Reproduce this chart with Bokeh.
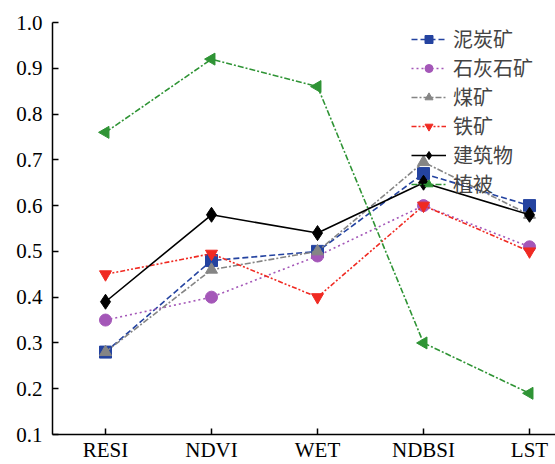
import math
from bokeh.plotting import figure
from bokeh.models import Range1d, FixedTicker, NumeralTickFormatter
from bokeh.embed import file_html
from bokeh.resources import INLINE

categories = ["RESI", "NDVI", "WET", "NDBSI", "LST"]
peat = [0.28, 0.48, 0.50, 0.67, 0.60]
limestone = [0.35, 0.40, 0.49, 0.60, 0.51]
coal = [0.28, 0.46, 0.50, 0.695, 0.58]
iron = [0.45, 0.495, 0.40, 0.60, 0.50]
building = [0.39, 0.58, 0.54, 0.65, 0.58]
vegetation = [0.76, 0.92, 0.86, 0.30, 0.19]
y_ticks = [0.1, 0.2, 0.3, 0.4, 0.5, 0.6, 0.7, 0.8, 0.9, 1.0]

xs = list(range(len(categories)))

p = figure(width=555, height=464, output_backend="svg", toolbar_location=None,
           x_range=Range1d(-0.5, 4.245), y_range=Range1d(0.1, 1.0),
           min_border_left=52, min_border_top=22, min_border_right=0, min_border_bottom=25)
p.outline_line_color = None
p.grid.visible = False
p.background_fill_color = "white"
p.border_fill_color = "white"

series = [
    ("泥炭矿", peat, "#2443a0", "6 3", "square", 0),
    ("石灰石矿", limestone, "#a457b8", "2 3", "circle", 0),
    ("煤矿", coal, "#858585", "6 2 2 2", "triangle", 0),
    ("铁矿", iron, "#f02a22", "5 2 2 2 2 2", "inverted_triangle", 0),
    ("建筑物", building, "black", "solid", "diamond", 0),
    ("植被", vegetation, "#2f9435", "6 2 2 2", "triangle", math.pi / 2),
]
for name, vals, color, dash, marker, ang in series:
    p.line(xs, vals, line_color=color, line_dash=dash, line_width=1.6, legend_label=name)
    size = 15 if marker == "diamond" else 12
    p.scatter(xs, vals, marker=marker, size=size, angle=ang, fill_color=color,
              line_color=color, legend_label=name)

p.xaxis.ticker = FixedTicker(ticks=xs)
p.xaxis.major_label_overrides = {i: c for i, c in enumerate(categories)}
p.yaxis.ticker = FixedTicker(ticks=y_ticks)
p.yaxis.formatter = NumeralTickFormatter(format="0.0")
for ax in (p.xaxis, p.yaxis):
    ax.axis_line_width = 1.5
    ax.axis_line_color = "black"
    ax.major_tick_in = 6
    ax.major_tick_out = 0
    ax.major_tick_line_width = 1.5
    ax.minor_tick_line_color = None
    ax.major_label_text_font = "Liberation Serif"
    ax.major_label_text_font_size = "21px"
    ax.major_label_text_color = "black"
p.xaxis.major_label_standoff = 3
p.yaxis.major_label_standoff = 10

lg = p.legend[0]
lg.location = (359, 236)
lg.border_line_color = None
lg.background_fill_alpha = 0
lg.label_text_font = "Noto Sans CJK SC"
lg.label_text_font_size = "20px"
lg.glyph_width = 35
lg.glyph_height = 20
lg.spacing = 0
lg.label_height = 20
lg.padding = 2
lg.margin = 0
lg.label_standoff = 7

open("out.html", "w").write(file_html(p, INLINE))
